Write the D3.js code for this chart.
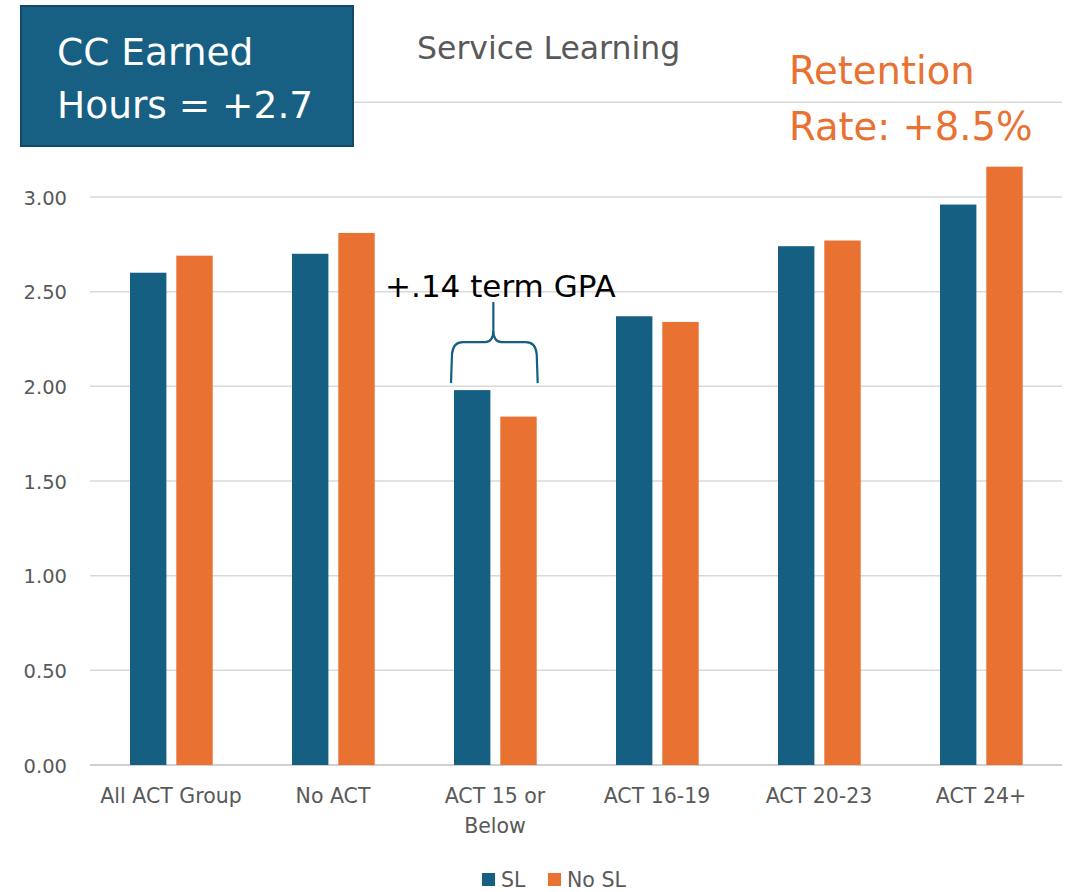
<!DOCTYPE html>
<html>
<head>
<meta charset="utf-8">
<script src="https://cdn.jsdelivr.net/npm/d3@7"></script>
<style>
  html, body { margin: 0; padding: 0; background: #fff; }
  svg { display: block; }
  text { font-family: "DejaVu Sans", sans-serif; }
</style>
</head>
<body>
<svg id="chart" width="1074" height="892"></svg>
<script>
// ---- data ----
const categories = ["All ACT Group", "No ACT", "ACT 15 or Below", "ACT 16-19", "ACT 20-23", "ACT 24+"];
const seriesNames = ["SL", "No SL"];
const slValues   = [2.60, 2.70, 1.98, 2.37, 2.74, 2.96];
const noSlValues = [2.69, 2.81, 1.84, 2.34, 2.77, 3.16];
const gridTicks = [0, 0.5, 1.0, 1.5, 2.0, 2.5, 3.0, 3.5];
const labelTicks = [0, 0.5, 1.0, 1.5, 2.0, 2.5, 3.0];   // 3.50 label is hidden behind the box
const titleText = "Service Learning";
const boxLines = ["CC Earned", "Hours = +2.7"];
const retentionLines = ["Retention", "Rate: +8.5%"];
const gpaNote = "+.14 term GPA";
const gpaCategory = "ACT 15 or Below";

const colors = { "SL": "#156082", "No SL": "#E97132" };
const textGray = "#595959";

(function draw() {
const svg = d3.select("#chart");
const plot = { left: 90, right: 1062, top: 102.3, bottom: 765 };

const x0 = d3.scaleBand().domain(categories).range([plot.left, plot.right]).padding(0);
const x1 = d3.scaleBand().domain(seriesNames).range([40, 122.7]).paddingInner(0.214).paddingOuter(0);
const y = d3.scaleLinear().domain([0, 3.5]).range([plot.bottom, plot.top]);

const rows = categories.map((c, i) => ({ cat: c, values: [
  { s: "SL", v: slValues[i] }, { s: "No SL", v: noSlValues[i] } ] }));

// gridlines
svg.append("g").selectAll("line").data(gridTicks).join("line")
  .attr("x1", plot.left).attr("x2", plot.right)
  .attr("y1", d => y(d)).attr("y2", d => y(d))
  .attr("stroke", d => d === 0 ? "#d0d0d0" : "#d9d9d9")
  .attr("stroke-width", d => d === 0 ? 2 : 1.5);

// y axis labels
const yAxis = d3.axisLeft(y).tickValues(labelTicks).tickFormat(d3.format(".2f")).tickSize(0).tickPadding(0);
const yg = svg.append("g").attr("transform", "translate(67,0)").call(yAxis);
yg.select(".domain").remove();
yg.selectAll("text").attr("fill", textGray).style("font-size", "19.5px")
  .style("font-family", "'DejaVu Sans', sans-serif").attr("dy", "0.36em");

// bars
const groups = svg.append("g").selectAll("g").data(rows).join("g")
  .attr("transform", d => `translate(${x0(d.cat)},0)`);
groups.selectAll("rect").data(d => d.values).join("rect")
  .attr("x", d => x1(d.s)).attr("width", x1.bandwidth())
  .attr("y", d => y(d.v)).attr("height", d => y(0) - y(d.v))
  .attr("fill", d => colors[d.s]);

// x axis labels
const xAxis = d3.axisBottom(x0).tickSize(0).tickPadding(0);
const xg = svg.append("g").attr("transform", `translate(0,${plot.bottom})`).call(xAxis);
xg.select(".domain").remove();
xg.selectAll("text").attr("fill", textGray).style("font-size", "20.5px")
  .style("font-family", "'DejaVu Sans', sans-serif")
  .attr("y", 38).attr("dy", 0)
  .each(function(d) {
    const t = d3.select(this);
    const words = d.split(" ");
    t.text(null);
    let line = [];
    let tspan = t.append("tspan").attr("x", 0).attr("y", 38);
    let lineNo = 0;
    for (const w of words) {
      line.push(w);
      tspan.text(line.join(" "));
      if (tspan.node().getComputedTextLength() > x0.bandwidth() && line.length > 1) {
        line.pop();
        tspan.text(line.join(" "));
        line = [w];
        lineNo++;
        tspan = t.append("tspan").attr("x", 0).attr("y", 38 + lineNo * 30).text(w);
      }
    }
  });

// brace annotation for ACT 15 or Below
const gi = categories.indexOf(gpaCategory);
const bx0 = x0(gpaCategory);
const L = bx0 + x1("SL") - 3;
const R = bx0 + x1("No SL") + x1.bandwidth() + 1;
const M = (L + R) / 2 - 1;
const barTop = y(slValues[gi]);
const yb = barTop - 7, yh = barTop - 48, yt = barTop - 88;
const path = d3.path();
path.moveTo(L, yb);
path.lineTo(L + 1, yh + 12);
path.quadraticCurveTo(L + 2, yh, L + 12, yh);
path.lineTo(M - 8, yh);
path.quadraticCurveTo(M, yh, M, yh - 12);
path.lineTo(M, yt);
path.moveTo(M, yh - 12);
path.quadraticCurveTo(M, yh, M + 8, yh);
path.lineTo(R - 12, yh);
path.quadraticCurveTo(R - 2, yh, R - 1, yh + 12);
path.lineTo(R, yb);
svg.append("path").attr("d", path.toString()).attr("fill", "none")
  .attr("stroke", "#156082").attr("stroke-width", 2.2);
svg.append("text").attr("x", M + 7).attr("y", yt - 5.5).attr("text-anchor", "middle")
  .attr("fill", "#000").style("font-size", "31px").text(gpaNote);

// top-left box
svg.append("rect").attr("x", 21).attr("y", 6).attr("width", 332).attr("height", 140)
  .attr("fill", "#176083").attr("stroke", "#104a66").attr("stroke-width", 2);
svg.append("g").selectAll("text").data(boxLines).join("text")
  .attr("x", 57).attr("y", (d, i) => 65 + i * 52.5)
  .attr("fill", "#fff").style("font-size", "37.5px").text(d => d);

// title
svg.append("text").attr("x", 417).attr("y", 59.3).attr("fill", textGray)
  .style("font-size", "31.5px").text(titleText);

// retention annotation
svg.append("g").selectAll("text").data(retentionLines).join("text")
  .attr("x", 789).attr("y", (d, i) => 83.5 + i * 56)
  .attr("fill", "#E97132").style("font-size", "38.5px").text(d => d);

// legend
const legendX = [482, 548];
const lg = svg.append("g").selectAll("g").data(seriesNames).join("g")
  .attr("transform", (d, i) => `translate(${legendX[i]},873)`);
lg.append("rect").attr("width", 13).attr("height", 13).attr("fill", d => colors[d]);
lg.append("text").attr("x", 19).attr("y", 13.5).attr("fill", textGray)
  .style("font-size", "20.5px").text(d => d);
})();
</script>
</body>
</html>
